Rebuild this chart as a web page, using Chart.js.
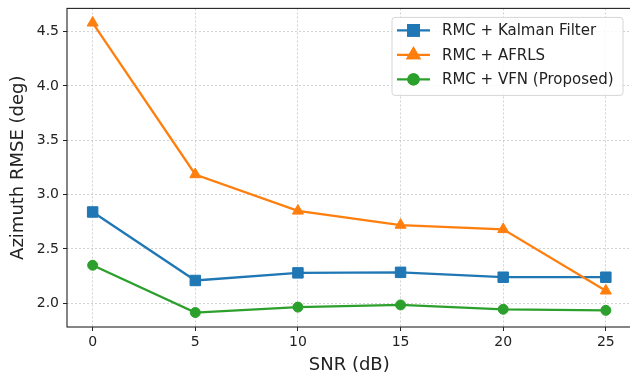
<!DOCTYPE html>
<html>
<head>
<meta charset="utf-8">
<script src="https://cdn.jsdelivr.net/npm/chart.js@4/dist/chart.umd.min.js"></script>
<style>
  html, body { margin: 0; padding: 0; background: #fff; overflow: hidden; }
  #wrap { position: relative; width: 640px; height: 379px; }
</style>
</head>
<body>
<div id="wrap"><canvas id="chart"></canvas></div>
<script>
// SNR sweep (dB) and azimuth RMSE (deg) for each tracker
const snrDb = [0, 5, 10, 15, 20, 25];
const rmseKalman = [2.84, 2.21, 2.28, 2.285, 2.24, 2.24];
const rmseAfrls = [4.58, 3.185, 2.85, 2.72, 2.68, 2.115];
const rmseVfn = [2.35, 1.915, 1.965, 1.985, 1.945, 1.935];

const seriesNames = ['RMC + Kalman Filter', 'RMC + AFRLS', 'RMC + VFN (Proposed)'];
const xTicks = [0, 5, 10, 15, 20, 25];
const yTicks = [2.0, 2.5, 3.0, 3.5, 4.0, 4.5];
const xRange = [-1.25, 26.25];
const yRange = [1.782, 4.713];

const FONT = 'DejaVu Sans';
const toPoints = (ys) => snrDb.map((x, i) => ({ x: x, y: ys[i] }));

// Full box around the plotting area
const frame = {
  id: 'frame',
  afterDatasetsDraw(chart) {
    const { ctx, chartArea: a } = chart;
    ctx.save();
    ctx.setLineDash([]);
    ctx.strokeStyle = '#222';
    ctx.lineWidth = 1.1;
    ctx.strokeRect(a.left, a.top, a.right - a.left, a.bottom - a.top);
    ctx.restore();
  }
};

// Legend boxed inside the upper-right corner of the plot
const innerLegend = {
  id: 'innerLegend',
  afterDraw(chart) {
    const { ctx, chartArea: a } = chart;
    const w = 231, h = 78;
    const x0 = a.right - 8.5 - w, y0 = a.top + 9;
    ctx.save();
    ctx.beginPath();
    if (ctx.roundRect) ctx.roundRect(x0, y0, w, h, 3); else ctx.rect(x0, y0, w, h);
    ctx.fillStyle = 'rgba(255,255,255,0.85)';
    ctx.fill();
    ctx.strokeStyle = '#d6d6d6';
    ctx.lineWidth = 1;
    ctx.stroke();
    ctx.font = '15px "' + FONT + '"';
    ctx.textBaseline = 'middle';
    chart.data.datasets.forEach((ds, i) => {
      const cy = y0 + 13 + i * 24.5;
      ctx.beginPath();
      ctx.strokeStyle = ds.borderColor;
      ctx.lineWidth = ds.borderWidth;
      ctx.moveTo(x0 + 5, cy);
      ctx.lineTo(x0 + 38, cy);
      ctx.stroke();
      Chart.helpers.drawPoint(ctx, {
        pointStyle: ds.pointStyle,
        radius: ds.pointRadius,
        rotation: 0,
        borderWidth: ds.pointBorderWidth
      }, x0 + 21.5, cy);
      ctx.fillStyle = ds.borderColor;
      ctx.fill();
      ctx.stroke();
      ctx.fillStyle = '#222';
      ctx.fillText(ds.label, x0 + 50, cy + 1);
    });
    ctx.restore();
  }
};

const series = (label, ys, color, style, radius, order) => ({
  label: label,
  data: toPoints(ys),
  borderColor: color,
  backgroundColor: color,
  borderWidth: 2.3,
  pointStyle: style,
  pointRadius: radius,
  pointHoverRadius: radius,
  pointBorderWidth: 1,
  pointBackgroundColor: color,
  pointBorderColor: color,
  tension: 0,
  order: order
});

const noEdgePadding = (s) => {
  s.paddingTop = 0; s.paddingBottom = 0; s.paddingLeft = 0; s.paddingRight = 0;
};

new Chart(document.getElementById('chart'), {
  type: 'line',
  data: {
    datasets: [
      series(seriesNames[0], rmseKalman, '#1f77b4', 'rect', 7.4, 3),
      series(seriesNames[1], rmseAfrls, '#ff7f0e', 'triangle', 6.4, 2),
      series(seriesNames[2], rmseVfn, '#2ca02c', 'circle', 5, 1)
    ]
  },
  options: {
    responsive: true,
    maintainAspectRatio: false,
    animation: false,
    events: [],
    layout: { padding: { top: 8, right: 8.5, bottom: 0, left: 0 } },
    plugins: { legend: { display: false }, tooltip: { enabled: false } },
    scales: {
      x: {
        type: 'linear',
        min: xRange[0],
        max: xRange[1],
        afterBuildTicks: (s) => { s.ticks = xTicks.map(v => ({ value: v })); },
        afterFit: (s) => { s.height = 52; noEdgePadding(s); },
        ticks: {
          color: '#222',
          font: { family: FONT, size: 14 },
          padding: 3,
          maxRotation: 0,
          callback: (v) => String(v)
        },
        grid: {
          color: 'rgba(180,180,180,0.75)',
          lineWidth: 0.8,
          drawTicks: true,
          tickLength: 4,
          tickColor: '#222',
          tickWidth: 1
        },
        border: { display: false, dash: [2, 2] },
        title: {
          display: true,
          text: 'SNR (dB)',
          color: '#222',
          font: { family: FONT, size: 18 },
          padding: { top: 0, bottom: 3 }
        }
      },
      y: {
        type: 'linear',
        min: yRange[0],
        max: yRange[1],
        afterBuildTicks: (s) => { s.ticks = yTicks.map(v => ({ value: v })); },
        afterFit: (s) => { s.width = 67; noEdgePadding(s); },
        ticks: {
          color: '#222',
          font: { family: FONT, size: 14 },
          padding: 4,
          callback: (v) => Number(v).toFixed(1)
        },
        grid: {
          color: 'rgba(180,180,180,0.75)',
          lineWidth: 0.8,
          drawTicks: true,
          tickLength: 4,
          tickColor: '#222',
          tickWidth: 1
        },
        border: { display: false, dash: [2, 2] },
        title: {
          display: true,
          text: 'Azimuth RMSE (deg)',
          color: '#222',
          font: { family: FONT, size: 18 },
          padding: { top: 8, bottom: 0 }
        }
      }
    }
  },
  plugins: [frame, innerLegend]
});
</script>
</body>
</html>
